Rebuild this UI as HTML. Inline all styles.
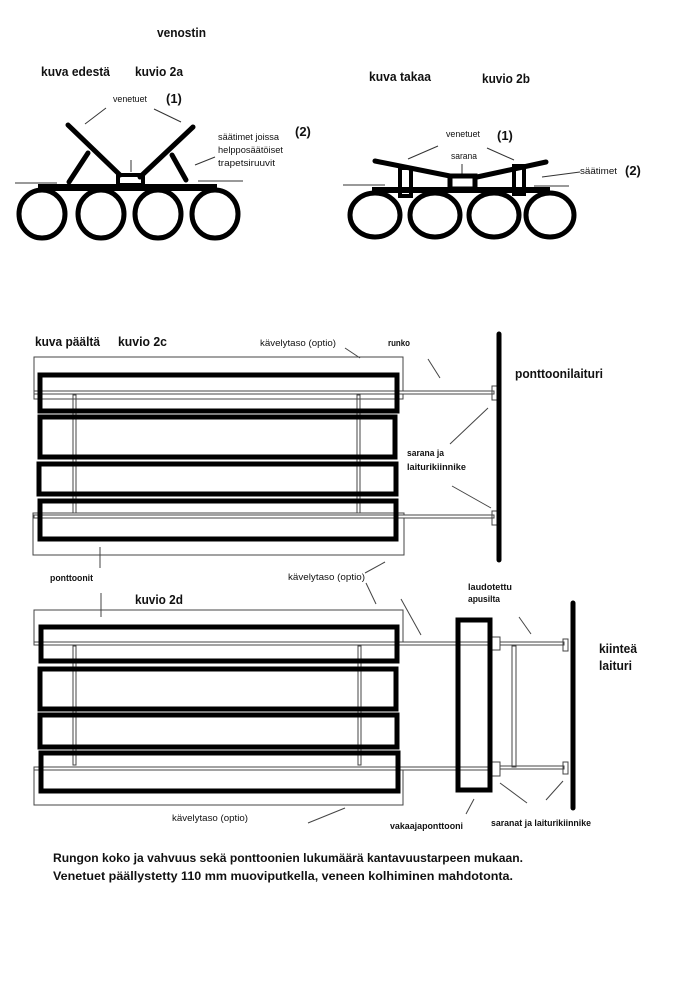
<!DOCTYPE html>
<html><head><meta charset="utf-8"><style>
html,body{margin:0;padding:0;background:#fff;}
svg{display:block;}
text{font-family:"Liberation Sans",sans-serif;fill:#111;}
.t{font-weight:bold;font-size:13px;}
.s{font-size:9px;}
.sb{font-size:9.5px;font-weight:bold;}
</style></head><body>
<svg width="675" height="1000" viewBox="0 0 675 1000" xmlns="http://www.w3.org/2000/svg">
<rect width="675" height="1000" fill="#fff"/>
<!-- titles top -->
<text class="t" x="157" y="37" textLength="49" lengthAdjust="spacingAndGlyphs">venostin</text>
<text class="t" x="41" y="76" textLength="69" lengthAdjust="spacingAndGlyphs">kuva edestä</text>
<text class="t" x="135" y="76" textLength="48" lengthAdjust="spacingAndGlyphs">kuvio 2a</text>
<text class="t" x="369" y="81" textLength="62" lengthAdjust="spacingAndGlyphs">kuva takaa</text>
<text class="t" x="482" y="83" textLength="48" lengthAdjust="spacingAndGlyphs">kuvio 2b</text>

<!-- Fig 2a -->
<text class="s" x="113" y="102" textLength="34" lengthAdjust="spacingAndGlyphs">venetuet</text>
<text class="t" x="166" y="103">(1)</text>
<text class="t" x="295" y="136">(2)</text>
<text class="s" x="218" y="140" textLength="61" lengthAdjust="spacingAndGlyphs">säätimet joissa</text>
<text class="s" x="218" y="153" textLength="65" lengthAdjust="spacingAndGlyphs">helpposäätöiset</text>
<text class="s" x="218" y="166" textLength="57" lengthAdjust="spacingAndGlyphs">trapetsiruuvit</text>
<g stroke="#333" stroke-width="1" fill="none">
<line x1="85" y1="124" x2="106" y2="108"/><line x1="154" y1="109" x2="181" y2="122"/>
<line x1="195" y1="165" x2="215" y2="157"/>
<line x1="15" y1="183" x2="57" y2="183"/><line x1="198" y1="181" x2="243" y2="181"/>
<line x1="131" y1="160" x2="131" y2="172"/>
</g>
<g stroke="#000" stroke-width="5" stroke-linecap="round" fill="none">
<line x1="68" y1="125" x2="120" y2="175"/>
<line x1="193" y1="127" x2="140" y2="177"/>
<line x1="69" y1="182" x2="88" y2="153"/>
<line x1="172" y1="155" x2="186" y2="180"/>
</g>
<rect x="118" y="175" width="25" height="10" fill="none" stroke="#000" stroke-width="4"/>
<rect x="38" y="184" width="179" height="7" fill="#000"/>
<g stroke="#000" stroke-width="5" fill="none">
<ellipse cx="42" cy="214" rx="23" ry="24"/><ellipse cx="101" cy="214" rx="23" ry="24"/>
<ellipse cx="158" cy="214" rx="23" ry="24"/><ellipse cx="215" cy="214" rx="23" ry="24"/>
</g>

<!-- Fig 2b -->
<text class="s" x="446" y="137" textLength="34" lengthAdjust="spacingAndGlyphs">venetuet</text>
<text class="t" x="497" y="140">(1)</text>
<text class="s" x="451" y="159" textLength="26" lengthAdjust="spacingAndGlyphs">sarana</text>
<text class="s" x="580" y="174" textLength="37" lengthAdjust="spacingAndGlyphs">säätimet</text>
<text class="t" x="625" y="175">(2)</text>
<g stroke="#333" stroke-width="1" fill="none">
<line x1="408" y1="159" x2="438" y2="146"/><line x1="487" y1="148" x2="514" y2="160"/>
<line x1="542" y1="177" x2="580" y2="172"/>
<line x1="343" y1="185" x2="385" y2="185"/><line x1="534" y1="186" x2="569" y2="186"/>
<line x1="462" y1="164" x2="462" y2="175"/>
</g>
<g stroke="#000" stroke-width="5" stroke-linecap="round" fill="none">
<line x1="375" y1="161" x2="450" y2="176"/>
<line x1="477" y1="177" x2="546" y2="162"/>
</g>
<rect x="400" y="168" width="11" height="28" fill="none" stroke="#000" stroke-width="4"/>
<rect x="514" y="166" width="10" height="28" fill="none" stroke="#000" stroke-width="4"/>
<rect x="450" y="176" width="25" height="13" fill="none" stroke="#000" stroke-width="5"/>
<rect x="372" y="187" width="178" height="6" fill="#000"/>
<g stroke="#000" stroke-width="5" fill="none">
<ellipse cx="375" cy="215" rx="25" ry="22"/><ellipse cx="435" cy="215" rx="25" ry="22"/>
<ellipse cx="494" cy="215" rx="25" ry="22"/><ellipse cx="550" cy="215" rx="24" ry="22"/>
</g>

<!-- Fig 2c -->
<text class="t" x="35" y="346" textLength="65" lengthAdjust="spacingAndGlyphs">kuva päältä</text>
<text class="t" x="118" y="346" textLength="49" lengthAdjust="spacingAndGlyphs">kuvio 2c</text>
<text class="s" x="260" y="346" textLength="76" lengthAdjust="spacingAndGlyphs">kävelytaso (optio)</text>
<text class="sb" x="388" y="346" textLength="22" lengthAdjust="spacingAndGlyphs">runko</text>
<text class="t" x="515" y="378" textLength="88" lengthAdjust="spacingAndGlyphs">ponttoonilaituri</text>
<text class="sb" x="407" y="456" textLength="37" lengthAdjust="spacingAndGlyphs">sarana ja</text>
<text class="sb" x="407" y="470" textLength="59" lengthAdjust="spacingAndGlyphs">laiturikiinnike</text>
<text class="sb" x="50" y="581" textLength="43" lengthAdjust="spacingAndGlyphs">ponttoonit</text>
<text class="s" x="288" y="580" textLength="77" lengthAdjust="spacingAndGlyphs">kävelytaso (optio)</text>
<g stroke="#444" stroke-width="1" fill="none">
<rect x="34" y="357" width="369" height="42"/>
<rect x="33" y="513" width="371" height="42"/>
<rect x="34" y="391" width="460" height="3" fill="#fff"/>
<rect x="34" y="515" width="460" height="3" fill="#fff"/>
<rect x="73" y="395" width="3" height="118"/>
<rect x="357" y="395" width="3" height="118"/>
<rect x="492" y="386" width="5" height="14"/>
<rect x="492" y="511" width="5" height="14"/>
<line x1="345" y1="348" x2="360" y2="358"/>
<line x1="428" y1="359" x2="440" y2="378"/>
<line x1="450" y1="444" x2="488" y2="408"/>
<line x1="452" y1="486" x2="491" y2="508"/>
<line x1="100" y1="547" x2="100" y2="568"/>
<line x1="365" y1="573" x2="385" y2="562"/>
</g>
<g stroke="#000" stroke-width="5" fill="none">
<rect x="40" y="375" width="357" height="36"/>
<rect x="40" y="417" width="355" height="40"/>
<rect x="39" y="464" width="357" height="30"/>
<rect x="40" y="501" width="356" height="38"/>
</g>
<line x1="499" y1="334" x2="499" y2="560" stroke="#000" stroke-width="5" stroke-linecap="round"/>

<!-- Fig 2d -->
<text class="t" x="135" y="604" textLength="48" lengthAdjust="spacingAndGlyphs">kuvio 2d</text>
<text class="sb" x="468" y="590" textLength="44" lengthAdjust="spacingAndGlyphs">laudotettu</text>
<text class="sb" x="468" y="602" textLength="32" lengthAdjust="spacingAndGlyphs">apusilta</text>
<text class="t" x="599" y="653" textLength="38" lengthAdjust="spacingAndGlyphs">kiinteä</text>
<text class="t" x="599" y="670" textLength="33" lengthAdjust="spacingAndGlyphs">laituri</text>
<text class="s" x="172" y="821" textLength="76" lengthAdjust="spacingAndGlyphs">kävelytaso (optio)</text>
<text class="sb" x="390" y="829" textLength="73" lengthAdjust="spacingAndGlyphs">vakaajaponttooni</text>
<text class="sb" x="491" y="826" textLength="100" lengthAdjust="spacingAndGlyphs">saranat ja laiturikiinnike</text>
<g stroke="#444" stroke-width="1" fill="none">
<rect x="34" y="610" width="369" height="35"/>
<rect x="34" y="769" width="369" height="36"/>
<rect x="34" y="642" width="458" height="3" fill="#fff"/>
<rect x="34" y="767" width="458" height="3" fill="#fff"/>
<rect x="500" y="642" width="64" height="3" fill="#fff"/>
<rect x="500" y="766" width="64" height="3" fill="#fff"/>
<rect x="73" y="646" width="3" height="119"/>
<rect x="358" y="646" width="3" height="119"/>
<rect x="512" y="646" width="4" height="121"/>
<rect x="492" y="637" width="8" height="13"/>
<rect x="492" y="762" width="8" height="14"/>
<rect x="563" y="639" width="5" height="12"/>
<rect x="563" y="762" width="5" height="12"/>
<line x1="101" y1="593" x2="101" y2="617"/>
<line x1="366" y1="583" x2="376" y2="604"/>
<line x1="401" y1="599" x2="421" y2="635"/>
<line x1="519" y1="617" x2="531" y2="634"/>
<line x1="308" y1="823" x2="345" y2="808"/>
<line x1="466" y1="814" x2="474" y2="799"/>
<line x1="500" y1="783" x2="527" y2="803"/>
<line x1="546" y1="800" x2="563" y2="781"/>
</g>
<g stroke="#000" stroke-width="5" fill="none">
<rect x="41" y="627" width="356" height="34"/>
<rect x="40" y="669" width="356" height="40"/>
<rect x="40" y="715" width="357" height="32"/>
<rect x="41" y="753" width="357" height="38"/>
<rect x="458" y="620" width="32" height="170"/>
</g>
<line x1="573" y1="603" x2="573" y2="808" stroke="#000" stroke-width="5" stroke-linecap="round"/>

<text x="53" y="862" style="font-weight:bold;font-size:12px" textLength="470" lengthAdjust="spacingAndGlyphs">Rungon koko ja vahvuus sekä ponttoonien lukumäärä kantavuustarpeen mukaan.</text>
<text x="53" y="880" style="font-weight:bold;font-size:12px" textLength="460" lengthAdjust="spacingAndGlyphs">Venetuet päällystetty 110 mm muoviputkella, veneen kolhiminen mahdotonta.</text>
</svg>
</body></html>
